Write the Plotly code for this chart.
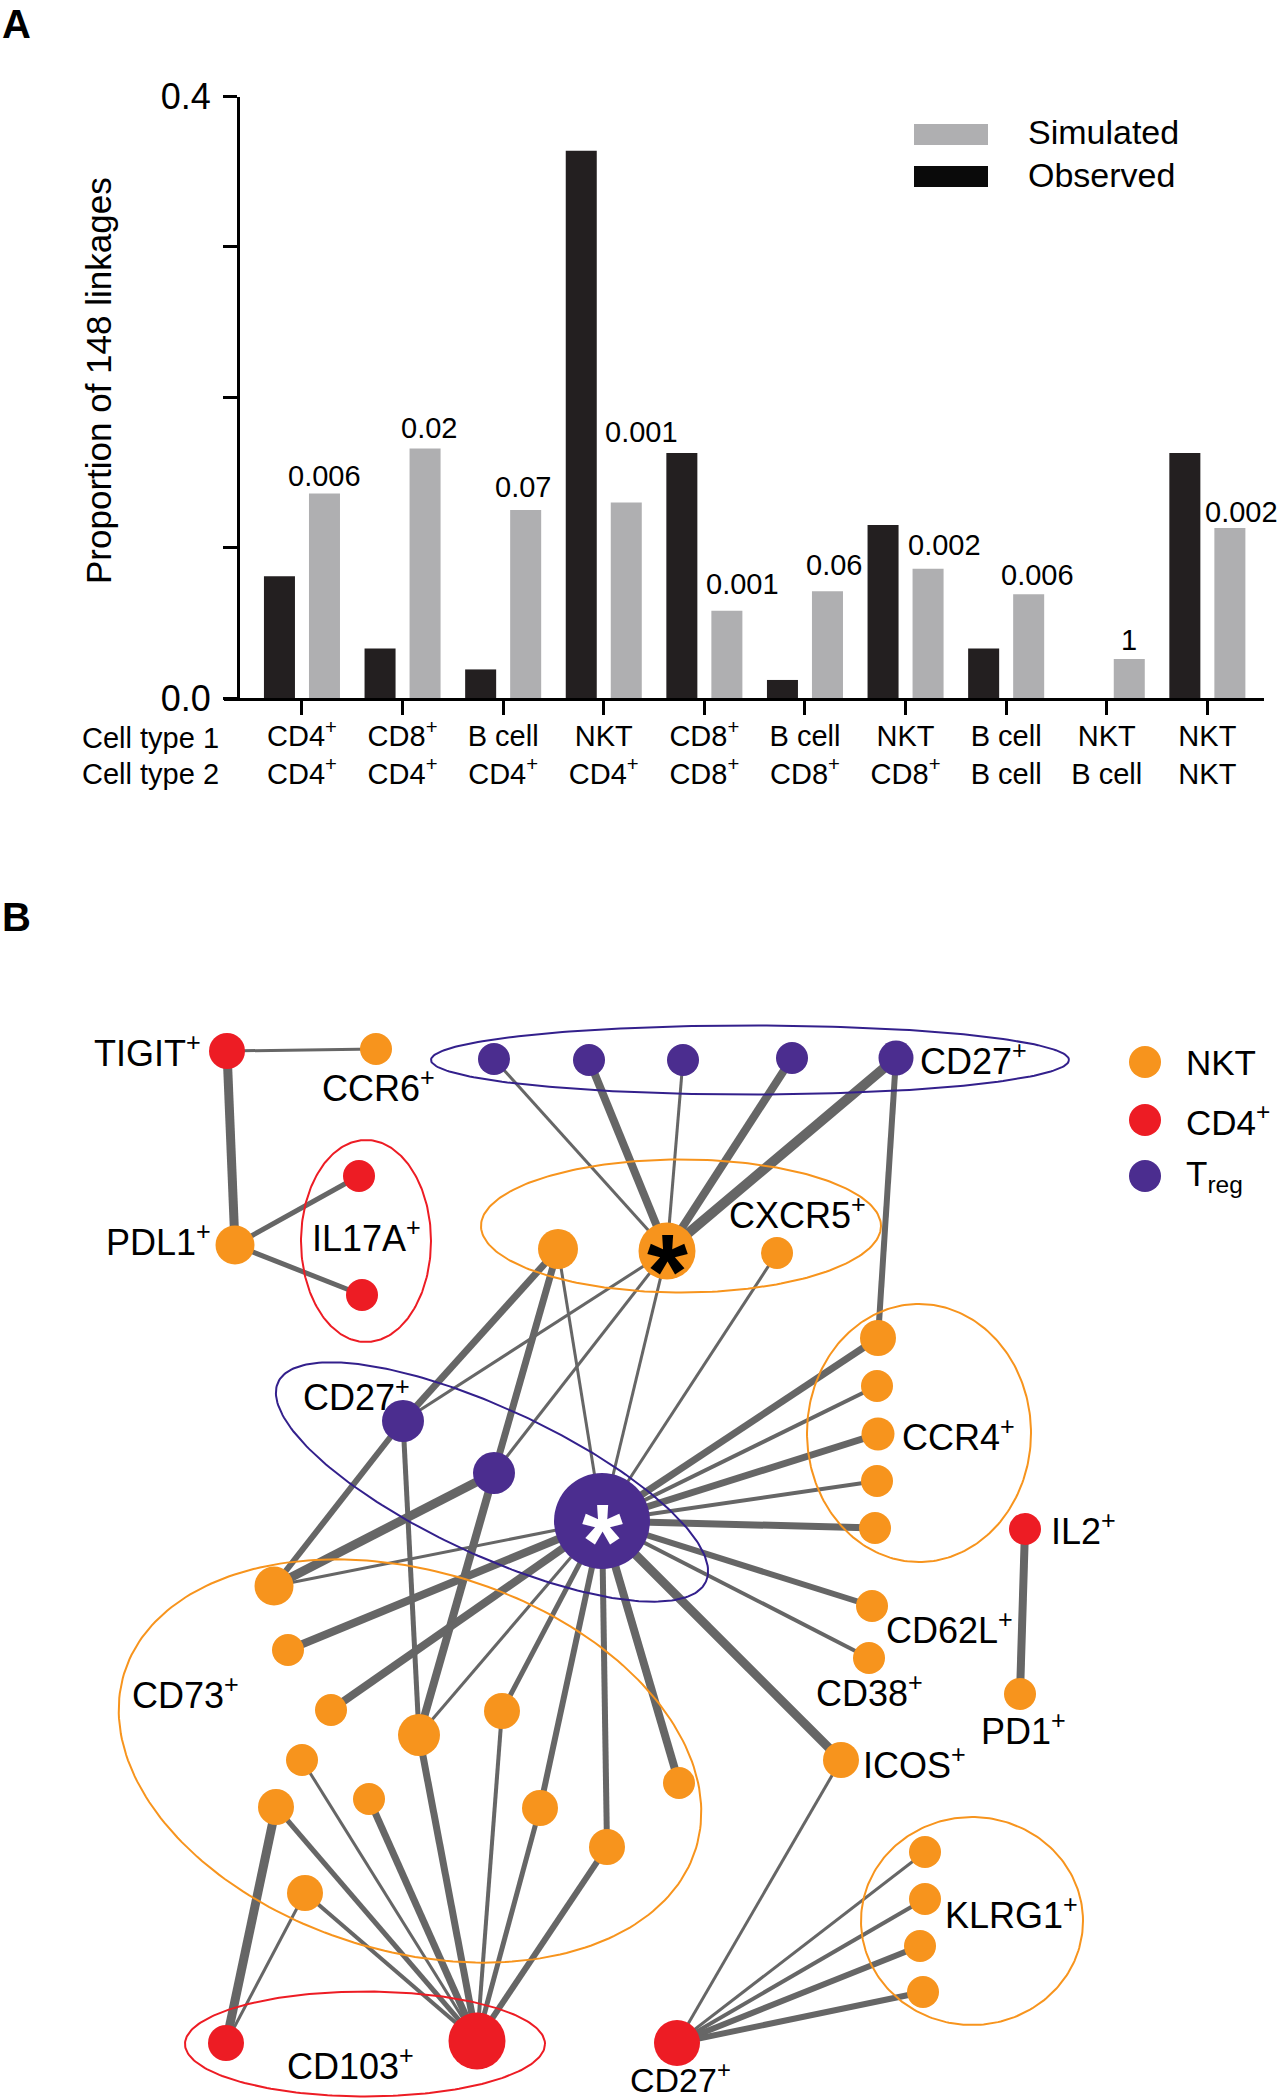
"""
Linkage proportions (A) and marker co-occurrence network (B)
"""

import numpy as np
import plotly.graph_objects as go

# ---------------- panel A data ----------------
cell_type_1 = ["CD4<sup>+</sup>", "CD8<sup>+</sup>", "B cell", "NKT", "CD8<sup>+</sup>",
               "B cell", "NKT", "B cell", "NKT", "NKT"]
cell_type_2 = ["CD4<sup>+</sup>", "CD4<sup>+</sup>", "CD4<sup>+</sup>", "CD4<sup>+</sup>", "CD8<sup>+</sup>",
               "CD8<sup>+</sup>", "CD8<sup>+</sup>", "B cell", "B cell", "NKT"]
observed = [0.081, 0.033, 0.019, 0.364, 0.163, 0.012, 0.115, 0.033, 0.0, 0.163]
simulated = [0.136, 0.166, 0.125, 0.130, 0.058, 0.071, 0.086, 0.069, 0.026, 0.113]
p_labels = ["0.006", "0.02", "0.07", "0.001", "0.001", "0.06", "0.002", "0.006", "1", "0.002"]
y_ticks = [0.0, 0.1, 0.2, 0.3, 0.4]
y_ticktext = ["0.0", "", "", "", "0.4"]

# ---------------- panel B data (layout, pixel space) ----------------
node_names = ["tigit", "ccr6", "pdl1", "il17a_1", "il17a_2",
              "treg_t1", "treg_t2", "treg_t3", "treg_t4", "treg_t5",
              "cxcr5_l", "star_o", "cxcr5_r", "cd27m_1", "cd27m_2", "big",
              "ccr4_1", "ccr4_2", "ccr4_3", "ccr4_4", "ccr4_5",
              "il2", "cd62l", "cd38", "pd1", "icos",
              "cd73_a", "cd73_b", "cd73_c", "cd73_d", "cd73_e", "cd73_f",
              "cd73_g", "cd73_h", "cd73_i", "cd73_j", "cd73_k", "cd73_l",
              "klrg1_1", "klrg1_2", "klrg1_3", "klrg1_4",
              "cd103_s", "cd103_b", "cd27_r"]
node_x = [227, 376, 235, 359, 362,
          494, 589, 683, 792, 896,
          558, 667, 777, 403, 494, 602,
          878, 877, 878, 877, 875,
          1025, 872, 869, 1020, 841,
          274, 288, 331, 419, 502, 302,
          276, 369, 540, 607, 305, 679,
          925, 925, 920, 923,
          226, 477, 677]
node_y = [1051, 1049, 1245, 1176, 1295,
          1059, 1060, 1060, 1058, 1058,
          1249, 1251, 1253, 1421, 1473, 1521,
          1338, 1386, 1434, 1481, 1528,
          1529, 1606, 1658, 1694, 1760,
          1586, 1650, 1710, 1735, 1711, 1760,
          1807, 1799, 1808, 1847, 1893, 1783,
          1852, 1899, 1946, 1992,
          2043, 2041, 2043]
node_kind = ["CD4", "NKT", "NKT", "CD4", "CD4",
             "Treg", "Treg", "Treg", "Treg", "Treg",
             "NKT", "NKT", "NKT", "Treg", "Treg", "Treg",
             "NKT", "NKT", "NKT", "NKT", "NKT",
             "CD4", "NKT", "NKT", "NKT", "NKT",
             "NKT", "NKT", "NKT", "NKT", "NKT", "NKT",
             "NKT", "NKT", "NKT", "NKT", "NKT", "NKT",
             "NKT", "NKT", "NKT", "NKT",
             "CD4", "CD4", "CD4"]
node_radius = [18, 16, 19.5, 16, 16,
               16, 16, 16, 16, 17.5,
               20, 28.5, 16, 21, 21, 48,
               18, 16, 16.5, 16, 16,
               16, 16, 16, 16, 18,
               19.5, 16, 16, 21, 18, 16,
               18, 16, 18, 18, 18, 16,
               16, 16, 16, 16,
               18, 28.5, 23]

edge_a = ["tigit", "tigit", "pdl1", "pdl1",
          "treg_t1", "treg_t2", "treg_t3", "treg_t4", "treg_t5", "treg_t5",
          "star_o", "star_o", "star_o", "cxcr5_l", "cxcr5_l", "cxcr5_l", "cxcr5_r",
          "cd27m_1", "cd27m_1", "cd27m_2", "cd27m_2",
          "big", "big", "big", "big", "big", "big", "big", "big",
          "big", "big", "big", "big", "big", "big", "big", "big",
          "cd73_d", "cd73_e", "cd73_i", "cd73_j", "cd73_h", "cd73_f", "cd73_g", "cd73_k",
          "cd73_g", "cd73_k",
          "icos", "klrg1_1", "klrg1_2", "klrg1_3", "klrg1_4", "il2"]
edge_b = ["ccr6", "pdl1", "il17a_1", "il17a_2",
          "star_o", "star_o", "star_o", "star_o", "star_o", "ccr4_1",
          "cd27m_1", "cd27m_2", "big", "cd27m_1", "cd27m_2", "big", "big",
          "cd73_a", "cd73_d", "cd73_a", "cd73_d",
          "cd73_a", "cd73_b", "cd73_c", "cd73_d", "cd73_e", "cd73_i", "cd73_j", "cd73_l",
          "icos", "cd38", "cd62l", "ccr4_5", "ccr4_4", "ccr4_3", "ccr4_2", "ccr4_1",
          "cd103_b", "cd103_b", "cd103_b", "cd103_b", "cd103_b", "cd103_b", "cd103_b", "cd103_b",
          "cd103_s", "cd103_s",
          "cd27_r", "cd27_r", "cd27_r", "cd27_r", "cd27_r", "pd1"]
edge_weight = [3, 9, 5, 5,
               3, 8, 3, 8, 10, 6,
               3, 3, 3, 7, 7, 3, 3,
               6, 5, 9, 8,
               3, 8, 8, 3, 5, 6, 6, 8,
               9, 4, 6, 7, 4, 7, 4, 7,
               7, 4, 5, 6, 7, 3, 5, 4,
               9, 3,
               3, 3, 4, 6, 6, 8]

# groups outlined by ellipses: centre, half axes, tilt (deg)
group_names = ["IL17A", "Treg CD27 top", "CXCR5", "Treg CD27 mid", "CCR4", "CD73", "CD103", "KLRG1"]
group_cx = [366, 750, 681, 492, 919, 410, 365, 972]
group_cy = [1241, 1060, 1226, 1482, 1433, 1761, 2044, 1921]
group_a = [65, 319, 200, 236, 112, 299, 180, 111]
group_b = [101, 34.5, 66.5, 73, 129, 190, 52.5, 104]
group_tilt = [0, 0, 0, 25, 0, 17, 0, 0]
group_kind = ["CD4", "Treg", "NKT", "Treg", "NKT", "NKT", "CD4", "NKT"]

marker_labels = ["TIGIT", "CCR6", "PDL1", "IL17A", "CD27", "CXCR5", "CD27", "CCR4", "IL2",
                 "CD62L", "CD38", "PD1", "ICOS", "CD73", "KLRG1", "CD103", "CD27"]
label_x = [203, 378, 213, 366, 918, 727, 301, 900, 1049, 884, 814, 979, 861, 130, 943, 285, 680]
label_y = [1051, 1086, 1240, 1236, 1059, 1213, 1395, 1435, 1529, 1628, 1691, 1729, 1763, 1693, 1913, 2064, 2077]
label_size = [36] * 16 + [34]
label_anchor = ["right", "center", "right", "center", "left", "left", "left", "left", "left",
                "left", "left", "left", "left", "left", "left", "left", "center"]

legend_kinds = ["NKT", "CD4", "Treg"]
legend_text = ["NKT", "CD4<sup>+</sup>", "T<sub>reg</sub>"]

# ---------------- styling ----------------
W, H = 1281, 2100
FONT = "Liberation Sans, Arial, Helvetica, sans-serif"
kind_color = {"NKT": "#F7941D", "CD4": "#ED1C24", "Treg": "#4B2D8F"}
ring_color = {"NKT": "#F7941D", "CD4": "#ED1C24", "Treg": "#33208C"}
EDGE = "#666666"


def px_x(v):
    return v / W


def px_y(v):
    return 1 - v / H


fig = go.Figure()

# ---- panel A bars ----
cats = list(range(len(observed)))
fig.add_trace(go.Bar(x=cats, y=observed, name="Observed", marker=dict(color="#231F20", line=dict(width=0)),
                     xaxis="x", yaxis="y", showlegend=False))
fig.add_trace(go.Bar(x=cats, y=simulated, name="Simulated", marker=dict(color="#AFAFB1", line=dict(width=0)),
                     xaxis="x", yaxis="y", showlegend=False))

# p-value labels sit above the simulated bars
p_dx = [0, 4, -3, 15, 16, 7, 16, 9, 0, 12]
p_dy = [17, 20, 23, 71, 27, 26, 24, 19, 19, 16]
annotations = []
for i, lab in enumerate(p_labels):
    annotations.append(dict(x=i, y=simulated[i], xref="x", yref="y", text=lab, showarrow=False,
                            xshift=22.5 + p_dx[i], yshift=p_dy[i], xanchor="center", yanchor="middle",
                            font=dict(size=29, color="black", family=FONT)))

annotations += [
    dict(x=0, y=1, xref="paper", yref="paper", text="<b>A</b>", showarrow=False, xanchor="left",
         yanchor="top", font=dict(size=40, color="black", family=FONT)),
    dict(x=0, y=px_y(893), xref="paper", yref="paper", text="<b>B</b>", showarrow=False, xanchor="left",
         yanchor="top", font=dict(size=40, color="black", family=FONT)),
    dict(x=px_x(98), y=px_y(381), xref="paper", yref="paper", text="Proportion of 148 linkages",
         textangle=-90, showarrow=False, xanchor="center", yanchor="middle",
         font=dict(size=35, color="black", family=FONT)),
    dict(x=px_x(80), y=px_y(738), xref="paper", yref="paper", text="Cell type 1", showarrow=False,
         xanchor="left", yanchor="middle", font=dict(size=29, color="black", family=FONT)),
    dict(x=px_x(80), y=px_y(774), xref="paper", yref="paper", text="Cell type 2", showarrow=False,
         xanchor="left", yanchor="middle", font=dict(size=29, color="black", family=FONT)),
    dict(x=px_x(1026), y=px_y(132), xref="paper", yref="paper", text="Simulated", showarrow=False,
         xanchor="left", yanchor="middle", font=dict(size=34, color="black", family=FONT)),
    dict(x=px_x(1026), y=px_y(175), xref="paper", yref="paper", text="Observed", showarrow=False,
         xanchor="left", yanchor="middle", font=dict(size=34, color="black", family=FONT)),
]

shapes = [
    dict(type="rect", xref="paper", yref="paper", x0=px_x(914), x1=px_x(988), y0=px_y(145), y1=px_y(124),
         fillcolor="#AFAFB1", line=dict(width=0)),
    dict(type="rect", xref="paper", yref="paper", x0=px_x(914), x1=px_x(988), y0=px_y(187), y1=px_y(166),
         fillcolor="#0A0A0A", line=dict(width=0)),
]

# ---- panel B network ----
pos = {n: (x, y) for n, x, y in zip(node_names, node_x, node_y)}

for w in sorted(set(edge_weight)):
    xs, ys = [], []
    for a, b, ew in zip(edge_a, edge_b, edge_weight):
        if ew == w:
            xs += [pos[a][0], pos[b][0], None]
            ys += [pos[a][1], pos[b][1], None]
    fig.add_trace(go.Scatter(x=xs, y=ys, mode="lines", line=dict(color=EDGE, width=w),
                             xaxis="x2", yaxis="y2", hoverinfo="skip", showlegend=False))

t = np.linspace(0, 2 * np.pi, 241)
for cx, cy, a, b, tilt, kind in zip(group_cx, group_cy, group_a, group_b, group_tilt, group_kind):
    th = np.radians(tilt)
    ex = cx + a * np.cos(t) * np.cos(th) - b * np.sin(t) * np.sin(th)
    ey = cy + a * np.cos(t) * np.sin(th) + b * np.sin(t) * np.cos(th)
    fig.add_trace(go.Scatter(x=ex, y=ey, mode="lines", line=dict(color=ring_color[kind], width=2),
                             xaxis="x2", yaxis="y2", hoverinfo="skip", showlegend=False))

fig.add_trace(go.Scatter(
    x=node_x, y=node_y, mode="markers", xaxis="x2", yaxis="y2", showlegend=False,
    marker=dict(size=[2 * r for r in node_radius], color=[kind_color[k] for k in node_kind],
                line=dict(width=0), opacity=1),
    text=node_names, hoverinfo="text"))

# the two hub nodes carry an asterisk
for name, col in [("star_o", "black"), ("big", "white")]:
    annotations.append(dict(x=pos[name][0], y=pos[name][1], xref="x2", yref="y2", text="*",
                            showarrow=False, yshift=-20, xanchor="center", yanchor="middle",
                            font=dict(size=105, color=col, family=FONT, weight="bold")))

for lab, lx, ly, anc, fs in zip(marker_labels, label_x, label_y, label_anchor, label_size):
    annotations.append(dict(x=lx, y=ly, xref="x2", yref="y2", text=lab + "<sup>+</sup>",
                            showarrow=False, xanchor=anc, yanchor="middle",
                            font=dict(size=fs, color="black", family=FONT)))

# legend for panel B
leg_y = [1062, 1120, 1176]
fig.add_trace(go.Scatter(x=[1145] * 3, y=leg_y, mode="markers", xaxis="x2", yaxis="y2", showlegend=False,
                         marker=dict(size=32, color=[kind_color[k] for k in legend_kinds]), hoverinfo="skip"))
for txt, ly in zip(legend_text, leg_y):
    annotations.append(dict(x=1184, y=ly, xref="x2", yref="y2", text=txt, showarrow=False,
                            xanchor="left", yanchor="middle",
                            font=dict(size=35, color="black", family=FONT)))

fig.update_layout(
    width=W, height=H, autosize=False,
    margin=dict(l=0, r=0, t=0, b=0, pad=0, autoexpand=False),
    paper_bgcolor="white", plot_bgcolor="rgba(0,0,0,0)",
    font=dict(family=FONT, color="black"),
    barmode="group", bargap=0.105, bargroupgap=0.311,
    xaxis=dict(domain=[px_x(224), px_x(1264)], range=[-0.775, 9.563], anchor="y",
               showline=True, linecolor="black", linewidth=3, mirror=False,
               ticks="outside", ticklen=14, tickwidth=3, tickcolor="black",
               tickvals=cats, ticktext=[f"{a}<br>{b}" for a, b in zip(cell_type_1, cell_type_2)],
               tickfont=dict(size=29, color="black", family=FONT), ticklabelstandoff=-4,
               showgrid=False, zeroline=False, fixedrange=True),
    yaxis=dict(domain=[px_y(698), px_y(96.5)], range=[0, 0.4], anchor="free", position=px_x(238),
               showline=True, linecolor="black", linewidth=3,
               ticks="outside", ticklen=14, tickwidth=3, tickcolor="black",
               tickvals=y_ticks, ticktext=y_ticktext,
               tickfont=dict(size=36, color="black", family=FONT), ticklabelstandoff=5,
               showgrid=False, zeroline=False, fixedrange=True),
    xaxis2=dict(domain=[0, 1], range=[0, W], anchor="y2", visible=False, fixedrange=True),
    yaxis2=dict(domain=[0, 1], range=[H, 0], anchor="x2", visible=False, fixedrange=True),
    shapes=shapes,
    annotations=annotations,
)

fig.write_html("out.html", config={"displayModeBar": False},
               post_script="document.body.style.margin='0px';")
